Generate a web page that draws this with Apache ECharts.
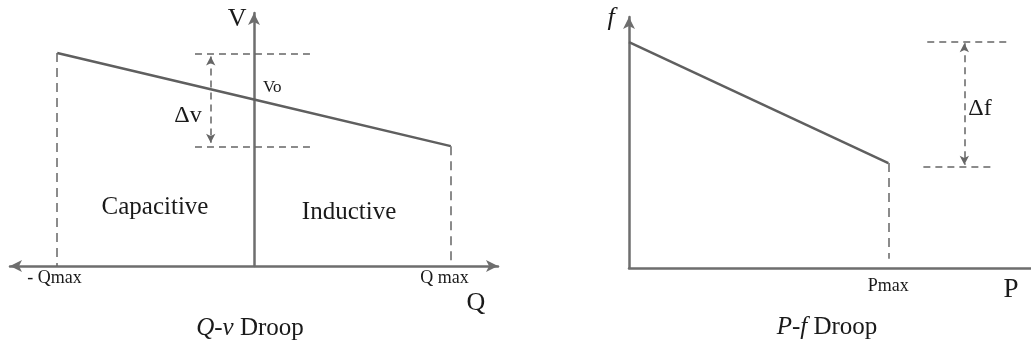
<!DOCTYPE html>
<html>
<head>
<meta charset="utf-8">
<script src="https://cdn.jsdelivr.net/npm/echarts@6/dist/echarts.min.js"></script>
<style>
  html, body { margin: 0; padding: 0; background: #fff; }
  #chart { width: 1031px; height: 345px; }
</style>
</head>
<body>
<div id="chart"></div>
<script>
// ---- Q-v droop (per-unit) ----
const qvQ = [-1, 0, 1];              // reactive power: -Qmax, 0, Qmax
const qvV = [1.28, 1.0, 0.72];       // voltage along the droop line
const qvBandV = [1.275, 0.715];      // upper / lower Δv reference levels
const qvBandQ = [-0.30, 0.285];      // extent of the Δv reference lines
const qvArrowQ = -0.22;              // Δv dimension arrow position
const qvArrowV = [1.258, 0.74];
const qvLabels = ['V', 'Vo', 'Δv', 'Capacitive', 'Inductive', '- Qmax', 'Q max', 'Q'];
const qvLabelQ = [-0.086, 0.093, -0.335, -0.503, 0.483, -1.014, 0.968, 1.128];
const qvLabelV = [1.48, 1.075, 0.90, 0.354, 0.324, -0.072, -0.072, -0.222];

// ---- P-f droop (per-unit) ----
const pfP = [0, 1];                  // active power: 0, Pmax
const pfF = [0.99, 0.46];            // frequency along the droop line
const pfPmaxFoot = 0.04;             // foot of the Pmax guide
const pfBandF = [0.99, 0.445];       // upper / lower Δf reference levels
const pfBandTopP = [1.15, 1.46];
const pfBandBotP = [1.135, 1.41];
const pfArrowP = 1.293;              // Δf dimension arrow position
const pfArrowF = [0.985, 0.452];
const pfLabels = ['f', 'Δf', 'Pmax', 'P'];
const pfLabelP = [-0.069, 1.353, 1.0, 1.473];
const pfLabelF = [1.096, 0.697, -0.079, -0.096];

const captions = ['{i|Q-v} Droop', '{i|P-f} Droop'];

const SERIF = '"Liberation Serif", "DejaVu Serif", serif';
const AXIS = '#6e6e6e';
const LINE = '#5f5f5f';
const DASH = '#666666';
const TEXT = '#1a1a1a';

const qvFont = [26, 17, 24, 25, 25, 18, 18, 26];
const pfFont = [26, 24, 18, 27];
const pfItalic = [true, false, false, false];

function pairs(xs, ys) { return xs.map((x, i) => [x, ys[i]]); }

const dashStyle = { color: DASH, width: 1.5, type: [7, 5] };

function guide(a, b, style) {
  return [{ coord: a, lineStyle: style || dashStyle }, { coord: b }];
}

const qvGuides = [
  guide([qvQ[0], qvV[0]], [qvQ[0], 0], { color: DASH, width: 1.5, type: [9, 6] }),
  guide([qvQ[2], qvV[2]], [qvQ[2], 0], { color: DASH, width: 1.5, type: [9, 6] }),
  guide([qvBandQ[0], qvBandV[0]], [qvBandQ[1], qvBandV[0]]),
  guide([qvBandQ[0], qvBandV[1]], [qvBandQ[1], qvBandV[1]])
];
const pfGuides = [
  guide([pfP[1], pfF[1]], [pfP[1], pfPmaxFoot], { color: DASH, width: 1.5, type: [9, 6] }),
  guide([pfBandTopP[0], pfBandF[0]], [pfBandTopP[1], pfBandF[0]]),
  guide([pfBandBotP[0], pfBandF[1]], [pfBandBotP[1], pfBandF[1]])
];

// Text annotations anchored in data space (invisible points, visible labels)
function labelSeries(xi, texts, xs, ys, fonts, italics) {
  return {
    type: 'scatter', xAxisIndex: xi, yAxisIndex: xi, clip: false, silent: true,
    symbolSize: 0, z: 5,
    itemStyle: { opacity: 1 },
    data: texts.map((t, i) => ({
      name: t, value: [xs[i], ys[i]],
      label: { fontSize: fonts[i], fontStyle: italics && italics[i] ? 'italic' : 'normal', color: TEXT }
    })),
    label: {
      show: true, position: 'inside', formatter: '{b}', opacity: 1,
      color: TEXT, fontFamily: SERIF, align: 'center', verticalAlign: 'middle',
      textBorderWidth: 0
    }
  };
}

const noDecor = { axisTick: { show: false }, axisLabel: { show: false }, splitLine: { show: false } };

const option = {
  animation: false,
  backgroundColor: '#ffffff',
  grid: [
    { left: 10, width: 488, top: 13, height: 253 },
    { left: 629, width: 402, top: 17, height: 251 }
  ],
  xAxis: [
    Object.assign({ type: 'value', gridIndex: 0, min: -1.24, max: 1.24,
      axisLine: { show: true, onZero: true, symbol: ['arrow', 'arrow'], symbolSize: [9, 12],
        lineStyle: { color: AXIS, width: 2.5 } } }, noDecor),
    Object.assign({ type: 'value', gridIndex: 1, min: 0, max: 1.55,
      axisLine: { show: true, onZero: true, lineStyle: { color: AXIS, width: 2.5 } } }, noDecor)
  ],
  yAxis: [
    Object.assign({ type: 'value', gridIndex: 0, min: 0, max: 1.52,
      axisLine: { show: true, onZero: true, symbol: ['none', 'arrow'], symbolSize: [9, 12],
        lineStyle: { color: AXIS, width: 2.5 } } }, noDecor),
    Object.assign({ type: 'value', gridIndex: 1, min: 0, max: 1.1,
      axisLine: { show: true, onZero: true, symbol: ['none', 'arrow'], symbolSize: [9, 12],
        lineStyle: { color: AXIS, width: 2.5 } } }, noDecor)
  ],
  series: [
    {
      type: 'line', xAxisIndex: 0, yAxisIndex: 0, data: pairs(qvQ, qvV),
      symbol: 'none', lineStyle: { color: LINE, width: 2.5 }, z: 3,
      markLine: { silent: true, symbol: 'none', label: { show: false }, data: qvGuides, animation: false }
    },
    {
      type: 'line', xAxisIndex: 0, yAxisIndex: 0, data: [], symbol: 'none',
      markLine: {
        silent: true, symbol: ['arrow', 'arrow'], symbolSize: [7, 9], label: { show: false }, animation: false,
        lineStyle: { color: DASH, width: 1.5, type: [7, 5] },
        data: [[{ coord: [qvArrowQ, qvArrowV[0]] }, { coord: [qvArrowQ, qvArrowV[1]] }]]
      }
    },
    labelSeries(0, qvLabels, qvLabelQ, qvLabelV, qvFont),
    {
      type: 'line', xAxisIndex: 1, yAxisIndex: 1, data: pairs(pfP, pfF),
      symbol: 'none', lineStyle: { color: LINE, width: 2.5 }, z: 3,
      markLine: { silent: true, symbol: 'none', label: { show: false }, data: pfGuides, animation: false }
    },
    {
      type: 'line', xAxisIndex: 1, yAxisIndex: 1, data: [], symbol: 'none',
      markLine: {
        silent: true, symbol: ['arrow', 'arrow'], symbolSize: [7, 9], label: { show: false }, animation: false,
        lineStyle: { color: DASH, width: 1.5, type: [7, 5] },
        data: [[{ coord: [pfArrowP, pfArrowF[0]] }, { coord: [pfArrowP, pfArrowF[1]] }]]
      }
    },
    labelSeries(1, pfLabels, pfLabelP, pfLabelF, pfFont, pfItalic)
  ],
  graphic: [
    { type: 'text', x: 250, y: 328, silent: true,
      style: { text: captions[0], align: 'center', verticalAlign: 'middle',
        font: '25px ' + SERIF, fill: TEXT,
        rich: { i: { fontStyle: 'italic', fontSize: 25, fontFamily: SERIF, fill: TEXT } } } },
    { type: 'text', x: 827, y: 327, silent: true,
      style: { text: captions[1], align: 'center', verticalAlign: 'middle',
        font: '25px ' + SERIF, fill: TEXT,
        rich: { i: { fontStyle: 'italic', fontSize: 25, fontFamily: SERIF, fill: TEXT } } } }
  ]
};

const chart = echarts.init(document.getElementById('chart'), null, { renderer: 'canvas' });
chart.setOption(option);
</script>
</body>
</html>
